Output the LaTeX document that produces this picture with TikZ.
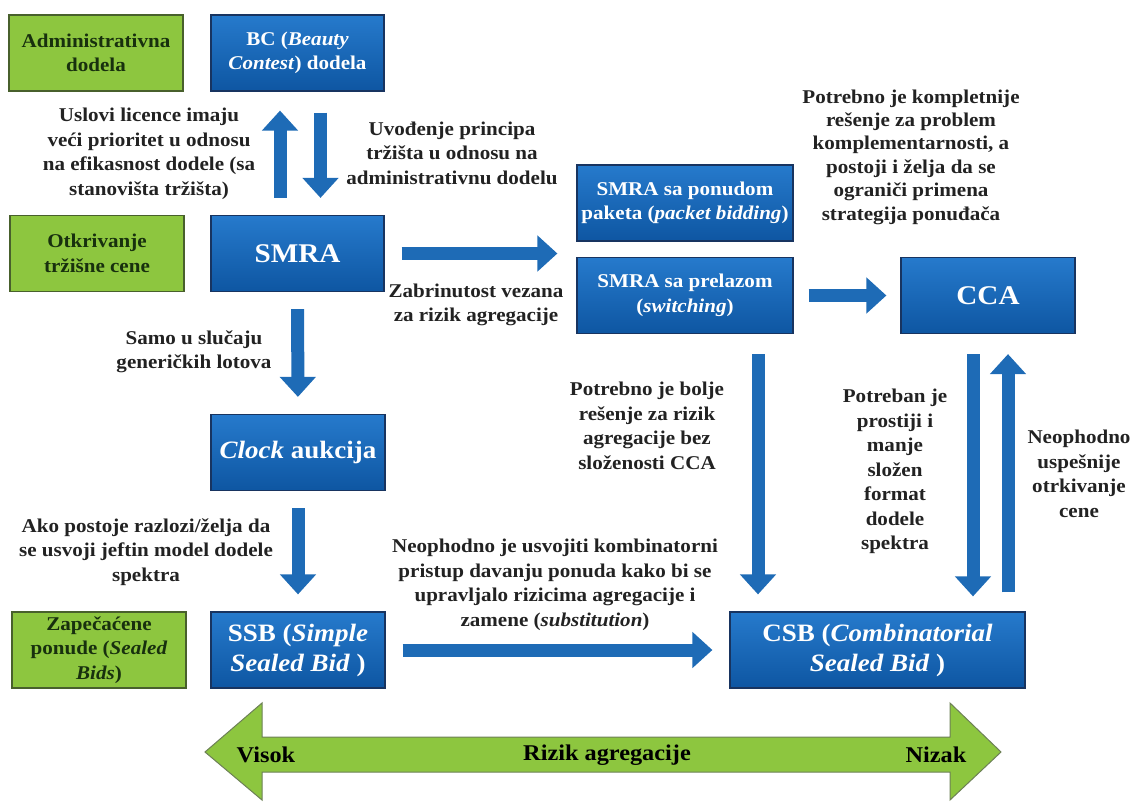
\documentclass[tikz,border=0pt]{standalone}
\usepackage{fontspec}
\setmainfont{Liberation Serif}[FakeStretch=1.08]
\usetikzlibrary{arrows.meta}

\definecolor{blueTop}{RGB}{38,122,204}
\definecolor{blueBot}{RGB}{14,86,162}
\definecolor{blueEdge}{RGB}{24,52,96}
\definecolor{flowBlue}{RGB}{30,107,182}
\definecolor{limeGreen}{RGB}{141,198,63}
\definecolor{greenEdge}{RGB}{72,96,44}
\definecolor{greenText}{RGB}{24,48,14}
\definecolor{noteText}{RGB}{34,34,34}

\newcommand{\notefont}{\fontsize{19.5}{24.5}\selectfont\bfseries}
\newcommand{\tightfont}{\fontsize{19.5}{23.4}\selectfont\bfseries}
\newcommand{\scalefont}{\fontsize{22.5}{27}\selectfont\bfseries}
\newcommand{\midfont}{\fontsize{25}{30}\selectfont\bfseries}
\newcommand{\bigfont}{\fontsize{27}{30}\selectfont\bfseries}

\tikzset{
  bluebox/.style={draw=blueEdge, line width=1.2pt, top color=blueTop, bottom color=blueBot,
    text=white, font=\notefont, align=center, minimum height=76pt, inner sep=0pt},
  greenbox/.style={draw=greenEdge, line width=1.2pt, fill=limeGreen, text=greenText,
    font=\notefont, align=center, minimum width=174pt, minimum height=76pt, inner sep=0pt},
  note/.style={text=noteText, font=\notefont, align=center, inner sep=0pt},
  tightnote/.style={note, font=\tightfont},
  scalenote/.style={note, text=black, font=\scalefont},
  flow/.style={draw=flowBlue, line width=13pt, -{Triangle[width=35pt,length=20pt]}},
}

\begin{document}
\begin{tikzpicture}[x=1pt,y=-1pt]
\useasboundingbox (0,0) rectangle (1132,803);

\node[greenbox] (admin) at (96,53) {Administrativna\\dodela};
\node[bluebox, minimum width=173pt] (bc) at (297.5,53) {BC (\textit{Beauty}\\\textit{Contest}) dodela};
\node[greenbox] (otkr) at (97,253.5) {Otkrivanje\\tržišne cene};
\node[bluebox, minimum width=173pt, font=\bigfont] (smra) at (297.5,253.5) {SMRA};
\node[bluebox, minimum width=216pt] (ponudom) at (685,203) {SMRA sa ponudom\\paketa (\textit{packet bidding})};
\node[bluebox, minimum width=216pt] (prelazom) at (685,295.5) {SMRA sa prelazom\\(\textit{switching})};
\node[bluebox, minimum width=174pt, font=\bigfont] (cca) at (988,295.5) {CCA};
\node[bluebox, minimum width=174pt, font=\midfont] (clock) at (298,452.5) {\textit{Clock} aukcija};
\node[greenbox] (zapec) at (99,650) {Zapečaćene\\ponude (\textit{Sealed}\\\textit{Bids})};
\node[bluebox, minimum width=174pt, font=\midfont] (ssb) at (298,650) {SSB (\textit{Simple}\\\textit{Sealed Bid} )};
\node[bluebox, minimum width=295pt, font=\midfont] (csb) at (877.5,650) {CSB (\textit{Combinatorial}\\\textit{Sealed Bid} )};

\node[note] (uslovi) at (149,154) {Uslovi licence imaju\\veći prioritet u odnosu\\na efikasnost dodele (sa\\stanovišta tržišta)};
\node[note] (uvodjenje) at (452,153) {Uvođenje principa\\tržišta u odnosu na\\administrativnu dodelu};
\node[note] (zabrinutost) at (476,305) {Zabrinutost vezana\\za rizik agregacije};
\node[tightnote] (kompletnije) at (911,157) {Potrebno je kompletnije\\rešenje za problem\\komplementarnosti, a\\postoji i želja da se\\ograniči primena\\strategija ponuđača};
\node[note] (samo) at (194,352) {Samo u slučaju\\generičkih lotova};
\node[note] (ako) at (146,552) {Ako postoje razlozi/želja da\\se usvoji jeftin model dodele\\spektra};
\node[note] (bolje) at (647,426) {Potrebno je bolje\\rešenje za rizik\\agregacije bez\\složenosti CCA};
\node[note] (usvojiti) at (555,585) {Neophodno je usvojiti kombinatorni\\pristup davanju ponuda kako bi se\\upravljalo rizicima agregacije i\\zamene (\textit{substitution})};
\node[note] (prostiji) at (895,471.5) {Potreban je\\prostiji i\\manje\\složen\\format\\dodele\\spektra};
\node[note] (uspesnije) at (1079,474) {Neophodno\\uspešnije\\otrkivanje\\cene};

\draw[flow, shorten <=17pt, shorten >=19pt] ([xshift=-17.5pt]smra.north) -- ([xshift=-17.5pt]bc.south);
\draw[flow, shorten <=21pt, shorten >=17pt] ([xshift=23pt]bc.south) -- ([xshift=23pt]smra.north);
\draw[flow, shorten <=17pt, shorten >=19pt] (smra.east) -- (smra.east -| ponudom.west);
\draw[flow, shorten <=15pt, shorten >=14pt] (prelazom.east) -- (cca.west);
\draw[flow, shorten <=17pt, shorten >=17pt] (smra.south) -- (clock.north);
\draw[flow, shorten <=17pt, shorten >=17pt] (clock.south) -- (ssb.north);
\draw[flow, shorten <=17pt, shorten >=17pt] (ssb.east) -- (csb.west);
\draw[flow, shorten <=20pt, shorten >=17pt] ([xshift=73pt]prelazom.south) -- ([xshift=73pt]prelazom.south |- csb.north);
\draw[flow, shorten <=20pt, shorten >=15pt] ([xshift=-15pt]cca.south) -- ([xshift=-15pt]cca.south |- csb.north);
\draw[flow, shorten <=19pt, shorten >=20pt] ([xshift=20pt]cca.south |- csb.north) -- ([xshift=20pt]cca.south);

\filldraw[fill=limeGreen, draw=greenEdge!80, line width=1pt] (205,752) -- (262,703) -- (262,737) -- (950,737)
  -- (950,703) -- (1001,752) -- (950,800) -- (950,772) -- (262,772) -- (262,800) -- cycle;
\node[scalenote] (visok) at (266,755) {Visok};
\node[scalenote] (rizik) at (607,755) {Rizik agregacije};
\node[scalenote] (nizak) at (936,755) {Nizak};
\end{tikzpicture}
\end{document}
